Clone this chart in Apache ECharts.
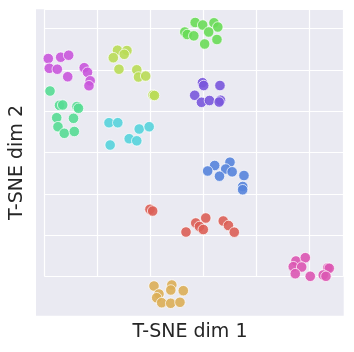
<!DOCTYPE html>
<html>
<head>
<meta charset="utf-8">
<script src="https://cdn.jsdelivr.net/npm/echarts@6/dist/echarts.min.js"></script>
<style>
  html, body { margin: 0; padding: 0; background: #fff; }
  #main { width: 354px; height: 352px; }
</style>
</head>
<body>
<div id="main"></div>
<script>
// cluster names and their hls colours
var clusters = ['c0', 'c1', 'c2', 'c3', 'c4', 'c5', 'c6', 'c7', 'c8', 'c9'];
var colors = ['#db5f57', '#dbae57', '#b9db57', '#69db57', '#57db94',
              '#57d3db', '#5784db', '#7957db', '#c957db', '#db57b2'];

// t-SNE coordinates, one array per cluster
var red = [[-10.06,-13.77],[-9.55,-14.18],[-3.26,-19.27],[-1.42,-17.08],[-0.72,-17.93],
           [0.0,-18.66],[0.47,-15.87],[3.77,-16.6],[4.75,-17.69],[5.85,-19.31]];
var orange = [[-9.3,-32.35],[-5.94,-32.11],[-8.36,-34.29],[-8.79,-35.19],[-6.13,-33.32],
              [-3.77,-33.49],[-7.85,-36.4],[-6.15,-36.54],[-4.4,-36.3]];
var lime = [[-16.19,24.79],[-14.4,24.71],[-14.92,23.79],[-16.98,22.97],[-15.91,20.18],
            [-12.55,20.04],[-12.23,18.29],[-10.87,18.53],[-9.49,13.93],[-9.21,13.81]];
var green = [[-1.53,31.5],[-0.11,30.89],[2.02,31.43],[2.74,30.41],[-3.49,29.2],
             [-3.02,28.59],[-1.79,28.27],[1.02,29.2],[0.26,26.29],[2.58,27.38]];
var teal = [[-28.92,14.9],[-27.13,11.43],[-26.53,11.51],[-23.83,11.14],[-23.55,10.71],
            [-27.66,8.43],[-24.49,8.28],[-27.42,6.25],[-26.23,4.65],[-24.34,5.09]];
var cyan = [[-17.79,7.22],[-16.13,7.22],[-12.09,5.69],[-10.21,6.25],[-13.98,3.34],
            [-12.55,2.83],[-17.57,1.81]];
var blue = [[5.04,-2.35],[2.15,-3.15],[0.83,-4.48],[4.23,-4.0],[5.45,-4.68],
            [3.06,-5.74],[7.68,-5.58],[7.45,-8.24],[7.43,-9.02]];
var purple = [[-0.15,16.91],[0.08,16.23],[3.15,16.23],[-1.62,13.86],[-0.34,12.16],
              [1.17,12.6],[3.25,12.67],[3.0,12.23]];
var magenta = [[-29.25,22.77],[-26.91,23.09],[-25.4,23.57],[-29.06,20.4],[-27.55,20.18],
               [-25.58,18.36],[-22.47,20.55],[-21.85,19.43],[-21.34,17.37],[-21.57,16.18]];
var pink = [[17.49,-26.29],[19.25,-25.49],[16.98,-27.67],[18.57,-27.75],[17.36,-29.37],
            [20.19,-30.0],[23.47,-27.99],[23.77,-28.06],[22.64,-29.69],[23.15,-30.0]];

var points = [red, orange, lime, green, teal, cyan, blue, purple, magenta, pink];

var xLabel = 'T-SNE dim 1';
var yLabel = 'T-SNE dim 2';

var series = [];
for (var i = 0; i < clusters.length; i++) {
  series.push({
    name: clusters[i],
    type: 'scatter',
    clip: false,
    symbolSize: 10.5,
    itemStyle: {
      color: colors[i],
      opacity: 0.9,
      borderColor: '#ffffff',
      borderWidth: 0.8
    },
    data: points[i]
  });
}

var axisCommon = {
  type: 'value',
  interval: 10,
  axisLine: { show: false },
  axisTick: { show: false },
  axisLabel: { show: false },
  splitLine: { show: true, lineStyle: { color: '#ffffff', width: 1.2 } }
};

var option = {
  animation: false,
  backgroundColor: '#ffffff',
  grid: { left: 44.3, right: 10.3, top: 9.3, bottom: 75.7 },
  xAxis: Object.assign({}, axisCommon, { min: -30, max: 26.5 }),
  yAxis: Object.assign({}, axisCommon, { min: -30, max: 34.7 }),
  graphic: {
    elements: [{
      type: 'rect',
      z: -10,
      silent: true,
      shape: { x: 36, y: 9.3, width: 307.7, height: 306.4 },
      style: { fill: '#eaeaf2' }
    }, {
      type: 'text',
      x: 190, y: 332,
      style: {
        text: xLabel, fill: '#262626', font: '19px "DejaVu Sans"',
        align: 'center', verticalAlign: 'middle'
      }
    }, {
      type: 'text',
      x: 17, y: 162.5,
      rotation: Math.PI / 2,
      style: {
        text: yLabel, fill: '#262626', font: '19px "DejaVu Sans"',
        align: 'center', verticalAlign: 'middle'
      }
    }]
  },
  series: series
};

var myChart = echarts.init(document.getElementById('main'));
myChart.setOption(option);
</script>
</body>
</html>
